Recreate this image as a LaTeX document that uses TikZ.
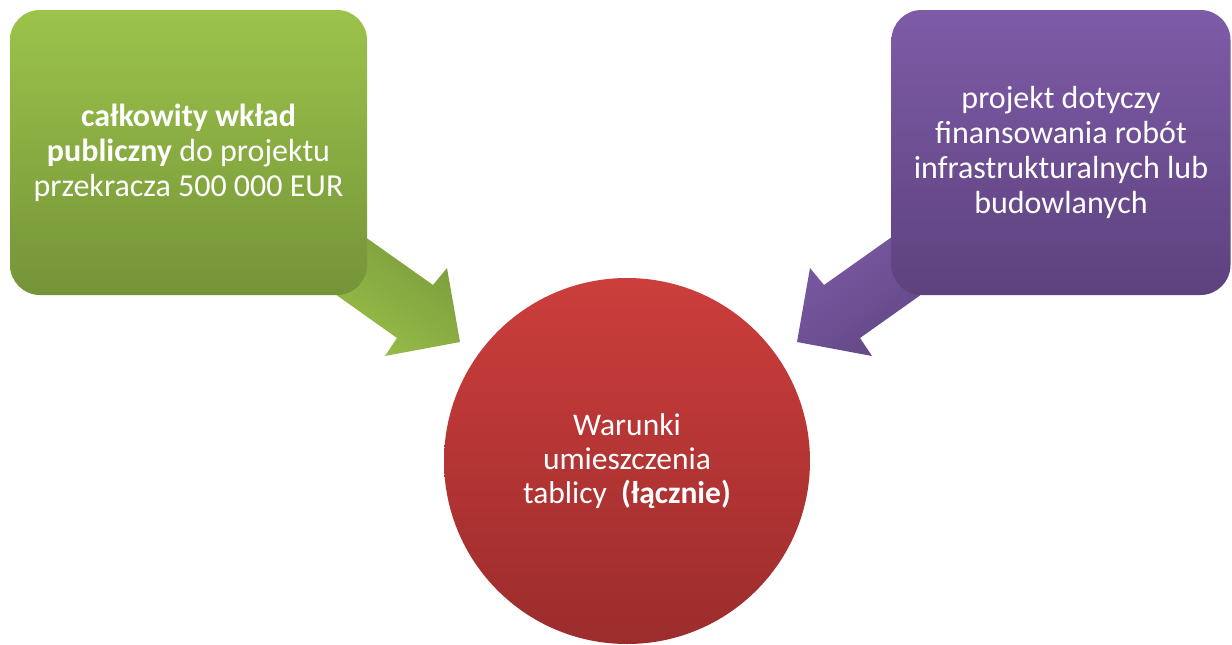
\documentclass[tikz,border=0pt]{standalone}
\usepackage{fontspec}
\setmainfont{Carlito}
\begin{document}
\begin{tikzpicture}[x=1pt,y=-1pt,
  boxtext/.style={text=white,align=center,font=\fontsize{32}{35}\selectfont},
  gbox/.style={rounded corners=30pt,top color=gtop,bottom color=gbot,draw=none,
     minimum width=357pt,minimum height=285pt,inner sep=0pt,boxtext},
  pbox/.style={rounded corners=30pt,top color=ptop,bottom color=pbot,draw=none,
     minimum width=339pt,minimum height=285pt,inner sep=0pt,boxtext},
  rcirc/.style={circle,top color=rtop,bottom color=rbot,draw=none,
     minimum size=366pt,inner sep=0pt,text=white,align=center,font=\fontsize{31.5}{34}\selectfont},
]
\definecolor{gtop}{HTML}{9CC34B}
\definecolor{gbot}{HTML}{759438}
\definecolor{glight}{HTML}{9CC34B}
\definecolor{gdark}{HTML}{78983A}
\definecolor{ptop}{HTML}{7E5BA7}
\definecolor{pbot}{HTML}{5D427E}
\definecolor{plight}{HTML}{7E5BA7}
\definecolor{pdark}{HTML}{5E4480}
\definecolor{rtop}{HTML}{CB3E3C}
\definecolor{rbot}{HTML}{9C2C2C}
\useasboundingbox (0,0) rectangle (1232,645);
% green arrow
\coordinate (ga1) at (320,205);
\coordinate (ga2) at (433,285);
\coordinate (ga3) at (447,268);
\coordinate (ga4) at (460,342);
\coordinate (ga5) at (385,356);
\coordinate (ga6) at (397,338);
\coordinate (ga7) at (280,255);
\path[top color=gdark,bottom color=glight,shading angle=-36]
  (ga1) -- (ga2) -- (ga3) -- (ga4) -- (ga5) -- (ga6) -- (ga7) -- cycle;
% purple arrow
\coordinate (pa1) at (937,205);
\coordinate (pa2) at (824,285);
\coordinate (pa3) at (810,268);
\coordinate (pa4) at (797,342);
\coordinate (pa5) at (872,356);
\coordinate (pa6) at (860,338);
\coordinate (pa7) at (977,255);
\path[top color=plight,bottom color=pdark,shading angle=36]
  (pa1) -- (pa2) -- (pa3) -- (pa4) -- (pa5) -- (pa6) -- (pa7) -- cycle;
\node[gbox] (g) at (188.5,152.5) {\textbf{całkowity wkład}\\\textbf{publiczny} do projektu\\przekracza 500 000 EUR};
\node[pbox] (p) at (1061,152.5) {projekt dotyczy\\finansowania robót\\infrastrukturalnych lub\\budowlanych};
\node[rcirc] (c) at (627,461) {Warunki\\umieszczenia\\tablicy~~\textbf{(łącznie)}};
\end{tikzpicture}
\end{document}
